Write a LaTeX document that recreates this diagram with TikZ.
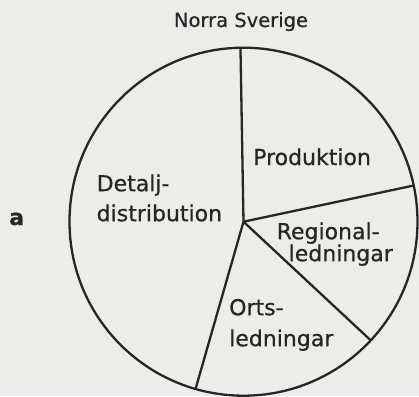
\documentclass[tikz,border=0pt]{standalone}
\usepackage{fontspec}
\setmainfont[FakeBold=0.6]{DejaVu Sans}
\usepackage{tikz}
\usetikzlibrary{shapes}
\definecolor{paper}{RGB}{236,236,233}
\definecolor{ink}{RGB}{38,38,38}
\tikzstyle{sector} = [align=left, inner sep=0pt, anchor=north west, text=ink]
\tikzstyle{spoke} = [draw=ink, line width=2.3pt]
\newcommand{\labelfont}[1]{\fontsize{22}{#1}\selectfont}

\begin{document}
\begin{tikzpicture}[x=1pt, y=1pt]
    \path [use as bounding box, fill=paper] (-243.5,-174.3) rectangle (175.5,221.7);
    \coordinate (hub) at (0,0);
    \node [circle, draw=ink, line width=2.3pt, inner sep=0pt, outer sep=0pt,
        minimum size=348pt] (pie) at (hub) {};
    \draw [spoke] (hub) -- (pie.91);
    \draw [spoke] (hub) -- (pie.12);
    \draw [spoke] (hub) -- (pie.-43);
    \draw [spoke] (hub) -- (pie.-106);
    % texts
    \node [text=ink, inner sep=0pt, anchor=base, font=\fontsize{19.5}{19.5}\selectfont]
        (region) at (-2.5,194.7) {Norra Sverige};
    \node [text=ink, inner sep=0pt, anchor=base west, font=\bfseries\labelfont{22}]
        (panel) at (-234.5,-3.3) {a};
    \node [sector, anchor=base west, font=\labelfont{22}] (prod) at (9.5,56.7) {Produktion};
    \node [sector, font=\labelfont{30}] (detail) at (-147,47.4) {Detalj-\\distribution};
    \node [sector, font=\labelfont{22}] (regional) at (33,-0.6) {Regional-\\\hspace*{12pt}ledningar};
    \node [sector, font=\labelfont{31}] (local) at (-14.5,-77) {Orts-\\ledningar};
\end{tikzpicture}
\end{document}
